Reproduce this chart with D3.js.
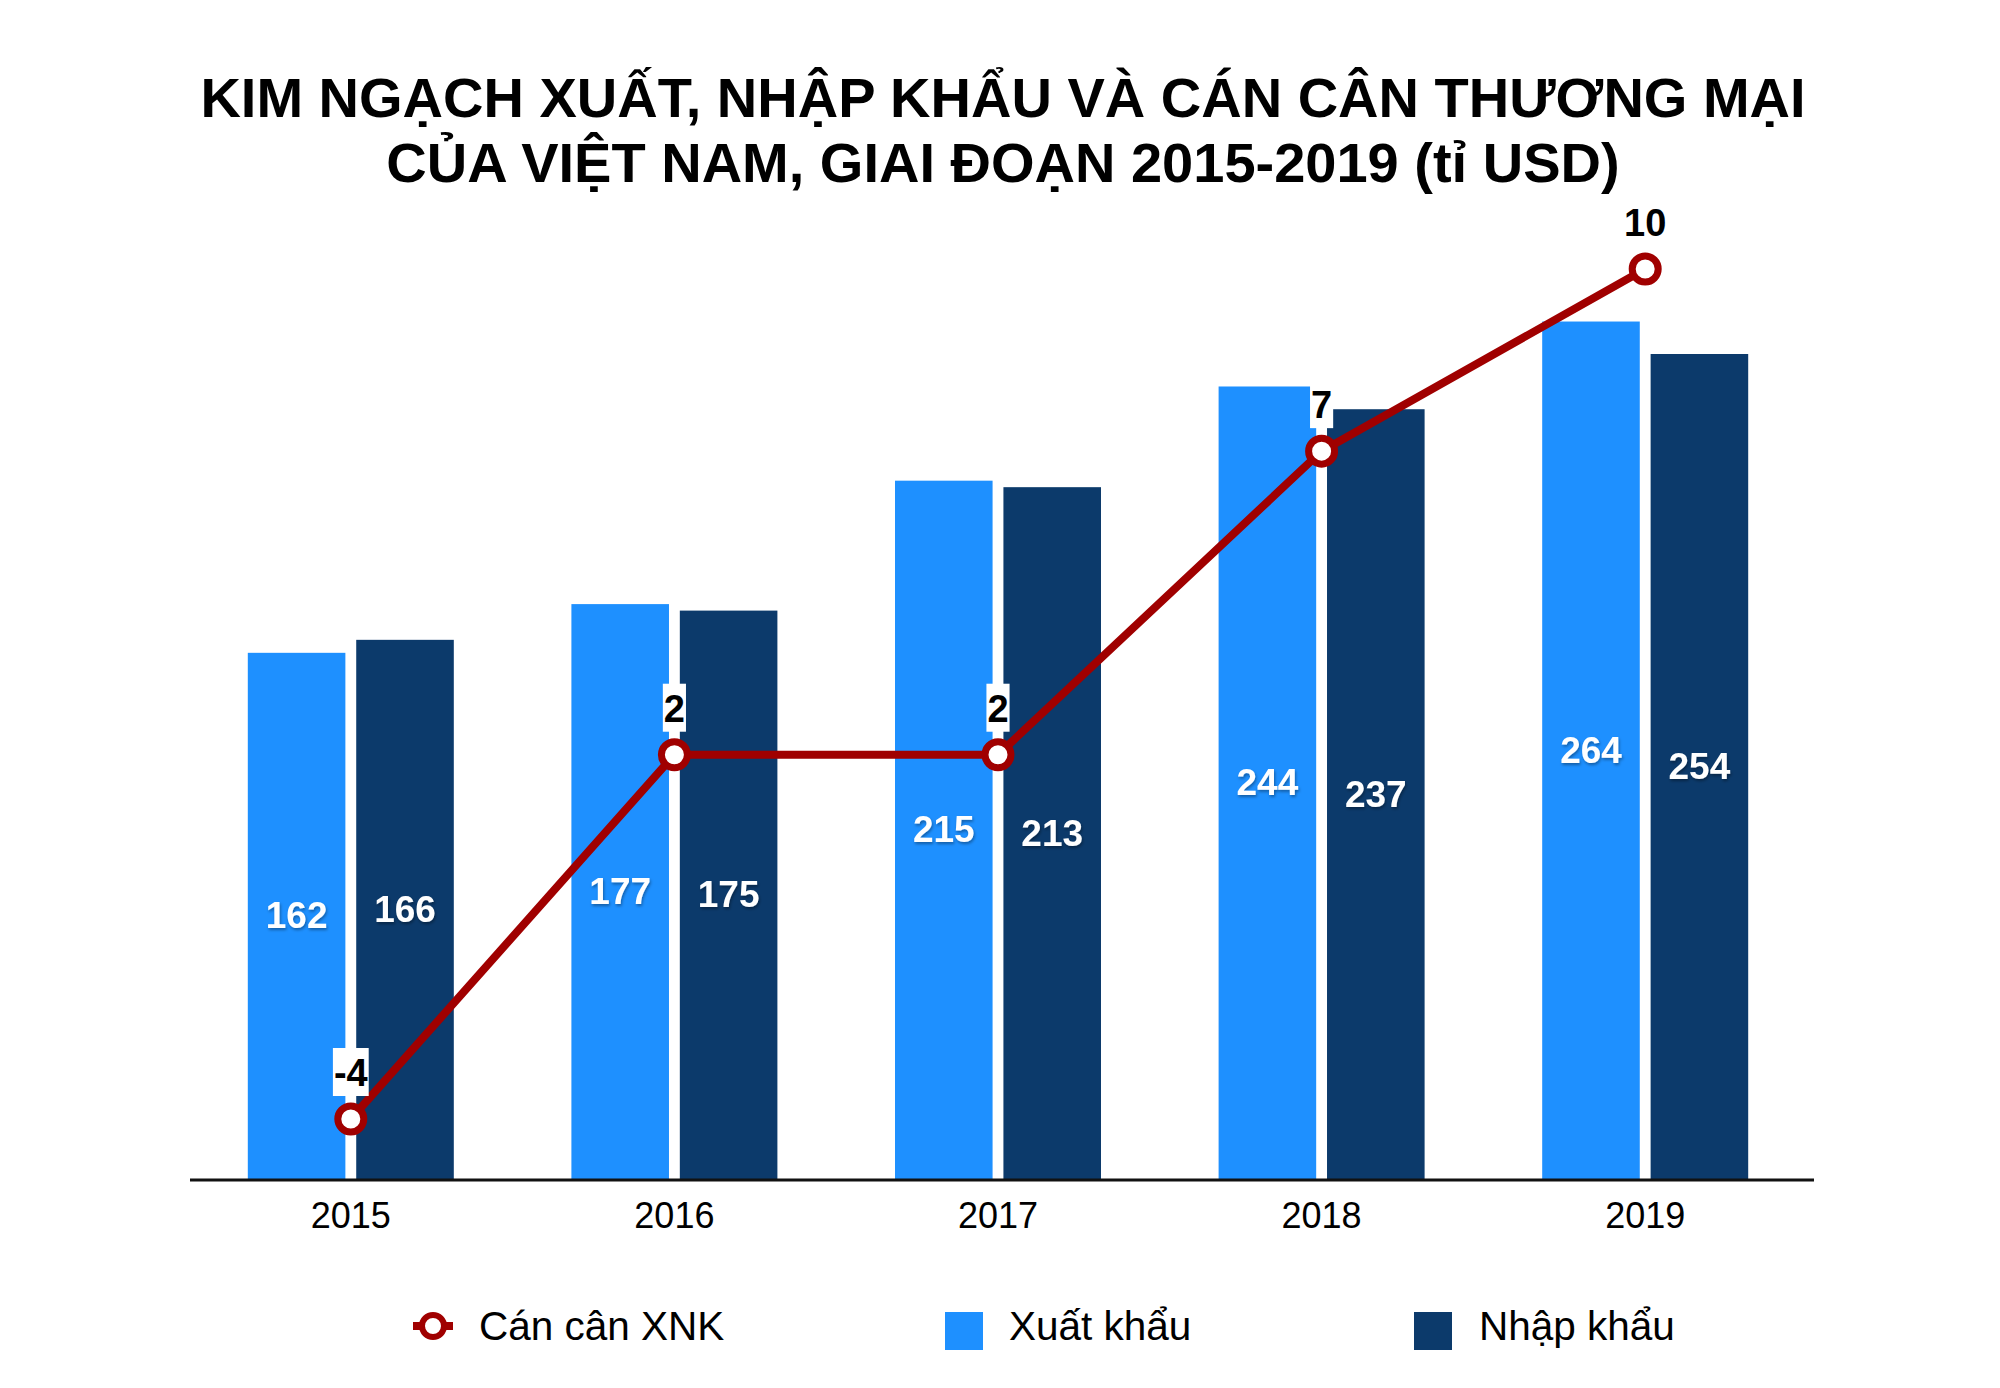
<!DOCTYPE html>
<html>
<head>
<meta charset="utf-8">
<script src="https://cdn.jsdelivr.net/npm/d3@7"></script>
<style>
  body { margin: 0; background: #fff; }
  svg { display: block; font-family: "Liberation Sans", Arial, Helvetica, sans-serif; }
</style>
</head>
<body>
<svg id="chart"></svg>
<script>
// --- data ---
const years = ["2015", "2016", "2017", "2018", "2019"];
const exportValues = [162, 177, 215, 244, 264];   // Xuất khẩu
const importValues = [166, 175, 213, 237, 254];   // Nhập khẩu
const balanceValues = [-4, 2, 2, 7, 10];          // Cán cân XNK
const titleLines = [
  "KIM NGẠCH XUẤT, NHẬP KHẨU VÀ CÁN CÂN THƯƠNG MẠI",
  "CỦA VIỆT NAM, GIAI ĐOẠN 2015-2019 (tỉ USD)"
];
const legendLabels = ["Cán cân XNK", "Xuất khẩu", "Nhập khẩu"];

const width = 2000, height = 1388;
const colors = { export: "#1e90ff", import: "#0c3a6b", line: "#a00000" };

const svg = d3.select("#chart").attr("width", width).attr("height", height);
svg.append("rect").attr("width", width).attr("height", height).attr("fill", "#fff");

// soft shadow for the white bar labels
const defs = svg.append("defs");
defs.append("filter").attr("id", "shadow")
  .attr("x", "-20%").attr("y", "-20%").attr("width", "140%").attr("height", "140%")
  .append("feDropShadow")
  .attr("dx", 1).attr("dy", 2).attr("stdDeviation", 1.5)
  .attr("flood-color", "#000").attr("flood-opacity", 0.35);

// title
svg.append("g").selectAll("text")
  .data(titleLines)
  .enter().append("text")
  .attr("x", 1003)
  .attr("y", (d, i) => 117 + i * 65)
  .attr("text-anchor", "middle")
  .attr("font-size", 56)
  .attr("font-weight", "bold")
  .attr("fill", "#000")
  .text(d => d);

// scales
const baseline = 1179;
const x = d3.scaleBand().domain(years).range([189, 1807]).padding(0);
const inner = d3.scaleBand().domain(["export", "import"]).range([-103, 103]).paddingInner(0.1);
const y = d3.scaleLinear().domain([0, 300]).range([baseline, baseline - 3.248 * 300]);
const y2 = d3.scaleLinear().domain([-4, 10]).range([1119, 269]);

const cx = d => x(d) + x.bandwidth() / 2;

const rows = years.map((yr, i) => ({
  year: yr, export: exportValues[i], import: importValues[i], balance: balanceValues[i]
}));

// bars
const series = ["export", "import"];
const groups = svg.append("g").selectAll("g")
  .data(rows)
  .enter().append("g")
  .attr("transform", d => `translate(${cx(d.year)},0)`);

series.forEach(key => {
  groups.append("rect")
    .attr("x", inner(key))
    .attr("y", d => y(d[key]))
    .attr("width", inner.bandwidth())
    .attr("height", d => baseline - y(d[key]))
    .attr("fill", colors[key]);

  groups.append("text")
    .attr("x", inner(key) + inner.bandwidth() / 2)
    .attr("y", d => (y(d[key]) + baseline) / 2)
    .attr("text-anchor", "middle")
    .attr("dominant-baseline", "central")
    .attr("font-size", 37)
    .attr("font-weight", "bold")
    .attr("fill", "#fff")
    .attr("filter", "url(#shadow)")
    .text(d => d[key]);
});

// x axis
const xAxis = d3.axisBottom(x).tickSize(0).tickPadding(23);
const axisG = svg.append("g")
  .attr("transform", `translate(0,${baseline})`)
  .call(xAxis);
axisG.select(".domain").remove();
axisG.selectAll("text")
  .attr("font-size", 36)
  .attr("font-family", "Liberation Sans, Arial, sans-serif")
  .attr("fill", "#000")
  .attr("dy", "0.71em");
svg.append("line")
  .attr("x1", 190).attr("x2", 1814)
  .attr("y1", baseline + 1).attr("y2", baseline + 1)
  .attr("stroke", "#111").attr("stroke-width", 3);

// balance line
const line = d3.line().x(d => cx(d.year)).y(d => y2(d.balance));
svg.append("path")
  .datum(rows)
  .attr("d", line)
  .attr("fill", "none")
  .attr("stroke", colors.line)
  .attr("stroke-width", 8)
  .attr("stroke-linejoin", "round");

// balance labels with white boxes
const labelG = svg.append("g").selectAll("g")
  .data(rows)
  .enter().append("g");
const labelText = labelG.append("text")
  .attr("x", d => cx(d.year))
  .attr("y", d => y2(d.balance) - 33)
  .attr("text-anchor", "middle")
  .attr("font-size", 38)
  .attr("font-weight", "bold")
  .attr("fill", "#000")
  .text(d => d.balance);
labelText.each(function() {
  const b = this.getBBox();
  d3.select(this.parentNode).insert("rect", "text")
    .attr("x", b.x - 1)
    .attr("y", b.y - 4)
    .attr("width", b.width + 2)
    .attr("height", b.height + 6)
    .attr("fill", "#fff");
});

// markers
svg.append("g").selectAll("circle")
  .data(rows)
  .enter().append("circle")
  .attr("cx", d => cx(d.year))
  .attr("cy", d => y2(d.balance))
  .attr("r", 13)
  .attr("fill", "#fff")
  .attr("stroke", colors.line)
  .attr("stroke-width", 7);

// legend
const legend = svg.append("g");
const lg0 = legend.append("g").attr("transform", "translate(433,1326)");
lg0.append("line").attr("x1", -20).attr("x2", 20)
  .attr("stroke", colors.line).attr("stroke-width", 8);
lg0.append("circle").attr("r", 11).attr("fill", "#fff")
  .attr("stroke", colors.line).attr("stroke-width", 6);

const legendItems = [
  { label: legendLabels[0], tx: 479 },
  { label: legendLabels[1], tx: 1009, sx: 945, color: colors.export },
  { label: legendLabels[2], tx: 1479, sx: 1414, color: colors.import }
];
legendItems.forEach(item => {
  if (item.color) {
    legend.append("rect")
      .attr("x", item.sx).attr("y", 1312)
      .attr("width", 38).attr("height", 38)
      .attr("fill", item.color);
  }
  legend.append("text")
    .attr("x", item.tx).attr("y", 1340)
    .attr("font-size", 40.5)
    .attr("fill", "#000")
    .text(item.label);
});
</script>
</body>
</html>
